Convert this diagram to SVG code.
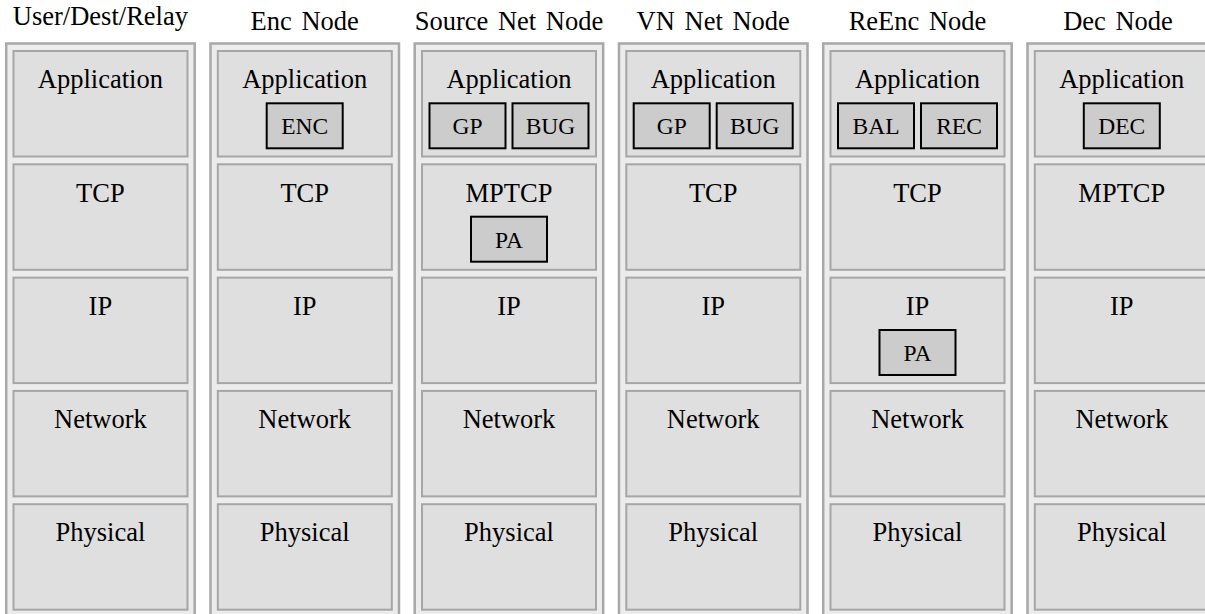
<svg xmlns="http://www.w3.org/2000/svg" width="1205" height="614" viewBox="0 0 1205 614">
<style>
.outer{fill:#ececec;stroke:#a8a8a8;stroke-width:2.5}
.layer{fill:#dfdfdf;stroke:#a6a6a6;stroke-width:2}
.sub{fill:#cccccc;stroke:#000;stroke-width:2}
.title{font-family:"Liberation Serif","Times New Roman",serif;font-size:26.5px;fill:#000;text-anchor:middle;word-spacing:3px}
.lbl{font-family:"Liberation Serif","Times New Roman",serif;font-size:26.5px;fill:#000;text-anchor:middle}
.sl{font-family:"Liberation Serif","Times New Roman",serif;font-size:23.5px;fill:#000;text-anchor:middle}
</style>
<rect width="1205" height="614" fill="#fff"/>
<defs>
<g id="stack">
<rect class="outer" x="0" y="43.5" width="188.5" height="574"/>
<rect class="layer" x="7.3" y="51" width="174" height="105.5"/>
<rect class="layer" x="7.3" y="164.3" width="174" height="105.5"/>
<rect class="layer" x="7.3" y="277.6" width="174" height="105.5"/>
<rect class="layer" x="7.3" y="390.9" width="174" height="105.5"/>
<rect class="layer" x="7.3" y="504.2" width="174" height="105.5"/>
</g>
</defs>
<g id="node-user">
<use href="#stack" x="6.2"/>
<text class="title" x="100.4" y="25" style="word-spacing:0">User/Dest/Relay</text>
<text class="lbl" x="100.4" y="88">Application</text>
<text class="lbl" x="100.4" y="201.5">TCP</text>
<text class="lbl" x="100.4" y="314.8">IP</text>
<text class="lbl" x="100.4" y="428">Network</text>
<text class="lbl" x="100.4" y="541.3">Physical</text>
</g>
<g id="node-enc">
<use href="#stack" x="210.5"/>
<text class="title" x="304.7" y="29.5">Enc Node</text>
<text class="lbl" x="304.7" y="88">Application</text>
<rect class="sub" x="266.7" y="103.3" width="76" height="45"/>
<text class="sl" x="304.7" y="134.3">ENC</text>
<text class="lbl" x="304.7" y="201.5">TCP</text>
<text class="lbl" x="304.7" y="314.8">IP</text>
<text class="lbl" x="304.7" y="428">Network</text>
<text class="lbl" x="304.7" y="541.3">Physical</text>
</g>
<g id="node-source">
<use href="#stack" x="414.7"/>
<text class="title" x="509" y="29.5">Source Net Node</text>
<text class="lbl" x="509" y="88">Application</text>
<rect class="sub" x="429.5" y="103.3" width="76" height="45"/>
<text class="sl" x="467.5" y="134.3">GP</text>
<rect class="sub" x="512.5" y="103.3" width="76" height="45"/>
<text class="sl" x="550.5" y="134.3">BUG</text>
<text class="lbl" x="509" y="201.5">MPTCP</text>
<rect class="sub" x="471" y="216.7" width="76" height="45"/>
<text class="sl" x="509" y="247.7">PA</text>
<text class="lbl" x="509" y="314.8">IP</text>
<text class="lbl" x="509" y="428">Network</text>
<text class="lbl" x="509" y="541.3">Physical</text>
</g>
<g id="node-vn">
<use href="#stack" x="619"/>
<text class="title" x="713.2" y="29.5">VN Net Node</text>
<text class="lbl" x="713.2" y="88">Application</text>
<rect class="sub" x="633.7" y="103.3" width="76" height="45"/>
<text class="sl" x="671.7" y="134.3">GP</text>
<rect class="sub" x="716.7" y="103.3" width="76" height="45"/>
<text class="sl" x="754.7" y="134.3">BUG</text>
<text class="lbl" x="713.2" y="201.5">TCP</text>
<text class="lbl" x="713.2" y="314.8">IP</text>
<text class="lbl" x="713.2" y="428">Network</text>
<text class="lbl" x="713.2" y="541.3">Physical</text>
</g>
<g id="node-reenc">
<use href="#stack" x="823.2"/>
<text class="title" x="917.5" y="29.5">ReEnc Node</text>
<text class="lbl" x="917.5" y="88">Application</text>
<rect class="sub" x="838" y="103.3" width="76" height="45"/>
<text class="sl" x="876" y="134.3">BAL</text>
<rect class="sub" x="921" y="103.3" width="76" height="45"/>
<text class="sl" x="959" y="134.3">REC</text>
<text class="lbl" x="917.5" y="201.5">TCP</text>
<text class="lbl" x="917.5" y="314.8">IP</text>
<rect class="sub" x="879.5" y="330" width="76" height="45"/>
<text class="sl" x="917.5" y="361">PA</text>
<text class="lbl" x="917.5" y="428">Network</text>
<text class="lbl" x="917.5" y="541.3">Physical</text>
</g>
<g id="node-dec">
<use href="#stack" x="1027.5"/>
<text class="title" x="1118" y="29.5">Dec Node</text>
<text class="lbl" x="1121.8" y="88">Application</text>
<rect class="sub" x="1083.8" y="103.3" width="76" height="45"/>
<text class="sl" x="1121.8" y="134.3">DEC</text>
<text class="lbl" x="1121.8" y="201.5">MPTCP</text>
<text class="lbl" x="1121.8" y="314.8">IP</text>
<text class="lbl" x="1121.8" y="428">Network</text>
<text class="lbl" x="1121.8" y="541.3">Physical</text>
</g>
<g id="connectors"></g>
</svg>
